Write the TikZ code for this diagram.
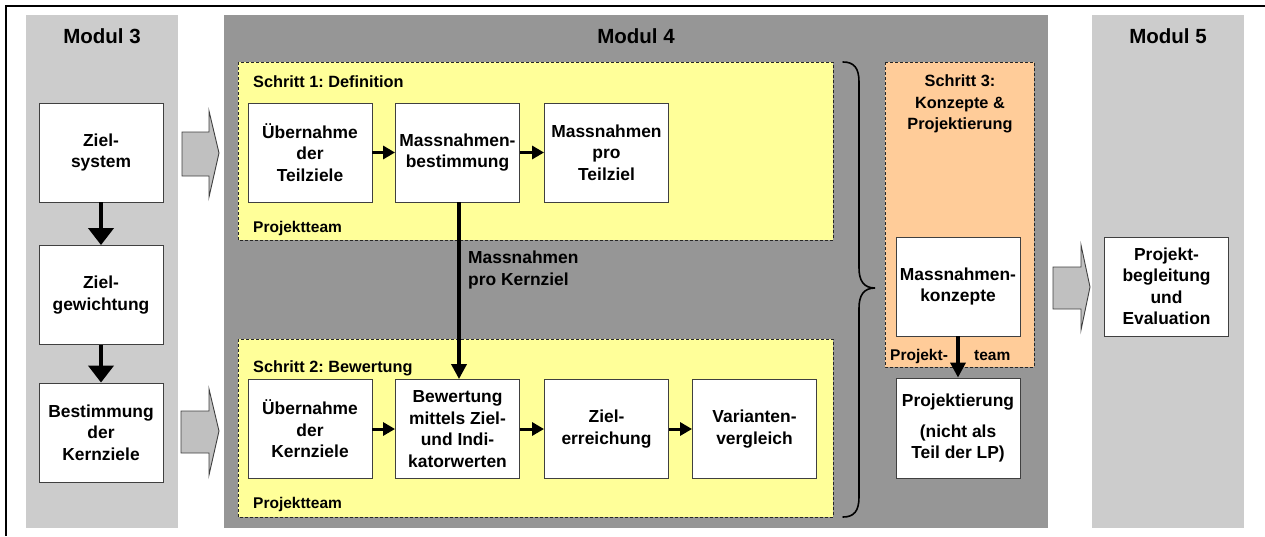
\documentclass[tikz,border=0pt]{standalone}
\usepackage{fontspec}
\setmainfont{Liberation Sans}
\usetikzlibrary{arrows.meta}
\definecolor{lgray}{HTML}{CCCCCC}
\definecolor{dgray}{HTML}{969696}
\definecolor{yel}{HTML}{FFFF99}
\definecolor{ora}{HTML}{FFCC99}
\definecolor{arrgray}{HTML}{C0C0C0}
\frenchspacing
\begin{document}
\begin{tikzpicture}[x=1pt,y=-1pt,
  box/.style={draw=black!75, line width=0.9pt, fill=white, minimum width=124pt, minimum height=99pt, inner sep=0pt, align=center, font=\fontsize{17.4}{21.5}\selectfont\bfseries},
  titlefont/.style={font=\fontsize{20.5}{24}\selectfont\bfseries},
  stepfont/.style={font=\fontsize{16.3}{21}\selectfont\bfseries, inner sep=0pt},
  teamfont/.style={font=\fontsize{15.5}{19}\selectfont\bfseries, inner sep=0pt},
  stepframe/.style={draw=black!85, line width=0.9pt, dash pattern=on 3pt off 2pt},
  bigarr/.style={fill=arrgray, draw=black!75, line width=0.9pt, line join=miter},
  bigconn/.style={line width=4pt, -{Triangle[length=17pt,width=25pt]}},
  conn/.style={line width=3pt, -{Triangle[length=12pt,width=13pt]}},
  vconn/.style={line width=3.5pt, -{Triangle[length=15pt,width=15pt]}}
]
\useasboundingbox (0,0) rectangle (1265,536);
% frame
\draw[line width=2pt] (5,6) -- (1265,6);
\draw[line width=2pt] (6,5) -- (6,536);
% panels
\fill[lgray] (26,15) rectangle (178,528);
\fill[dgray] (224,15) rectangle (1048,528);
\fill[lgray] (1092,15) rectangle (1244,528);
\node[titlefont] (m3) at (102,36) {Modul 3};
\node[titlefont] (m4) at (636,36) {Modul 4};
\node[titlefont] (m5) at (1168,36) {Modul 5};
% step frames
\draw[stepframe, fill=yel] (238,62) rectangle (833,240);
\draw[stepframe, fill=yel] (238,339) rectangle (833,517);
\draw[stepframe, fill=ora] (885,62) rectangle (1034,367);
\node[stepfont, anchor=base west] (s1) at (253,87) {Schritt 1: Definition};
\node[teamfont, anchor=base west] (t1) at (253,232) {Projektteam};
\node[stepfont, anchor=base west] (s2) at (253,372) {Schritt 2: Bewertung};
\node[teamfont, anchor=base west] (t2) at (253,508) {Projektteam};
\node[stepfont, anchor=base, align=center] (s3a) at (960,86) {Schritt 3:};
\node[stepfont, anchor=base, align=center] (s3b) at (960,108) {Konzepte \&};
\node[stepfont, anchor=base, align=center] (s3c) at (960,129) {Projektierung};
\node[teamfont, anchor=base west] (t3a) at (890,360) {Projekt-};
\node[teamfont, anchor=base west] (t3b) at (974,360) {team};
% big gray arrows
\draw[bigarr] (182,132) -- (209,132) -- (209,111) -- (219,153) -- (209,197) -- (209,176) -- (182,176) -- cycle;
\draw[bigarr] (181,411) -- (209,411) -- (209,389) -- (219,431) -- (209,475) -- (209,453) -- (181,453) -- cycle;
\draw[bigarr] (1053,267) -- (1081,267) -- (1081,245) -- (1090,287) -- (1081,330) -- (1081,309) -- (1053,309) -- cycle;
% brace
\draw[line width=1.6pt, line cap=round] (843,62) .. controls (854,62) and (859,68) .. (859,82) -- (859,268) .. controls (859,281) and (864,288) .. (875,288) .. controls (864,288) and (859,295) .. (859,308) -- (859,497) .. controls (859,511) and (854,517) .. (843,517);
% boxes
\node[box] (zs) at (101,152.5) {Ziel-\\system};
\node[box] (zg) at (101,295) {Ziel-\\gewichtung};
\node[box] (bk) at (101,432.5) {Bestimmung\\der\\Kernziele};
\node[box] (ut) at (310,152.5) {Übernahme\\der\\Teilziele};
\node[box] (mb) at (457.5,152.5) {Massnahmen-\\bestimmung};
\node[box] (mt) at (606.5,152.5) {Massnahmen\\pro\\Teilziel};
\node[box] (uk) at (310,429) {Übernahme\\der\\Kernziele};
\node[box] (bw) at (457.5,429) {Bewertung\\mittels Ziel-\\und Indi-\\katorwerten};
\node[box] (ze) at (606.5,429) {Ziel-\\erreichung};
\node[box] (vv) at (754.5,429) {Varianten-\\vergleich};
\node[box] (mk) at (958,286.5) {Massnahmen-\\konzepte};
\node[box, minimum height=100pt] (pj) at (958,428) {Projektierung\\[9pt](nicht als\\Teil der LP)};
\node[box] (pb) at (1166.5,286.5) {Projekt-\\begleitung\\und\\Evaluation};
% connectors
\draw[bigconn] (zs) -- (zg);
\draw[bigconn] (zg) -- (bk);
\draw[conn] (ut) -- (mb);
\draw[conn] (mb) -- (mt);
\draw[conn] (uk) -- (bw);
\draw[conn] (bw) -- (ze);
\draw[conn] (ze) -- (vv);
\draw[vconn] ([xshift=1.5pt]mb.south) -- ([xshift=1.5pt]bw.north);
\draw[vconn] (mk) -- (pj);
\node[stepfont, font=\fontsize{17.4}{22}\selectfont\bfseries, anchor=base west, align=left] (lbl) at (468,285) {Massnahmen\\pro Kernziel};
\end{tikzpicture}
\end{document}
